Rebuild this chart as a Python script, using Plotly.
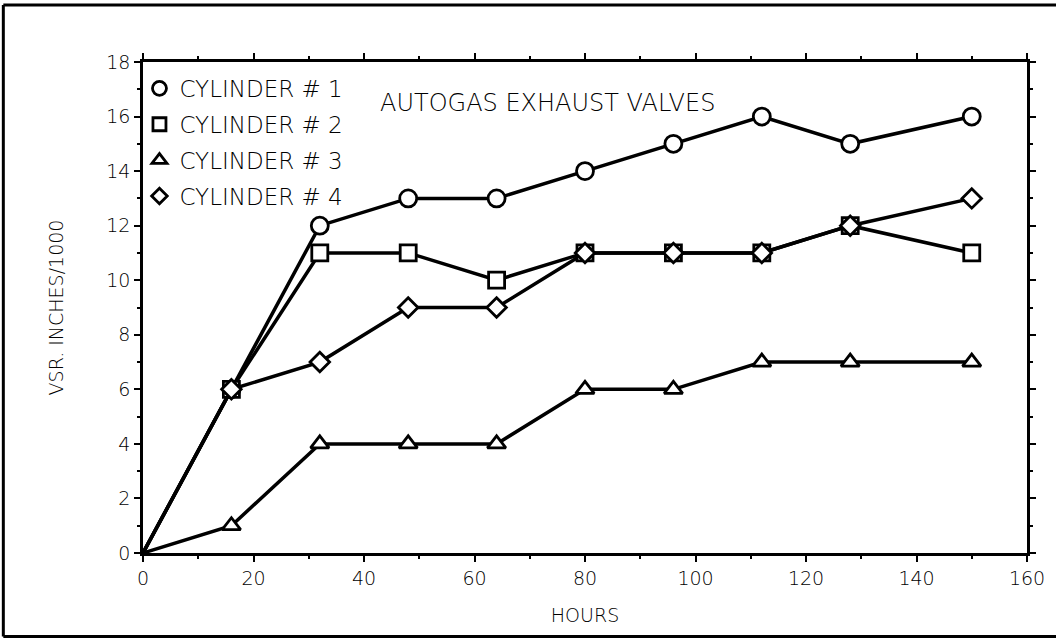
import plotly.graph_objects as go

hours = [0, 16, 32, 48, 64, 80, 96, 112, 128, 150]
cyl1 = [0, 6, 12, 13, 13, 14, 15, 16, 15, 16]
cyl2 = [0, 6, 11, 11, 10, 11, 11, 11, 12, 11]
cyl3 = [0, 1, 4, 4, 4, 6, 6, 7, 7, 7]
cyl4 = [0, 6, 7, 9, 9, 11, 11, 11, 12, 13]
names = ["CYLINDER # 1", "CYLINDER # 2", "CYLINDER # 3", "CYLINDER # 4"]
x_ticks = [0, 20, 40, 60, 80, 100, 120, 140, 160]
y_ticks = [0, 2, 4, 6, 8, 10, 12, 14, 16, 18]

FONT = "DejaVu Sans"
WEIGHT = 200
symbols = ["circle", "square", "triangle-up", "diamond"]
sizes = [17, 16, 16, 15]

fig = go.Figure()
series = [cyl1, cyl2, cyl3, cyl4]
for s in series:
    fig.add_trace(go.Scatter(x=hours, y=s, mode="lines",
                             line=dict(color="black", width=3.5),
                             showlegend=False, hoverinfo="skip", cliponaxis=False))
for i, s in enumerate(series):
    fig.add_trace(go.Scatter(x=hours[1:], y=s[1:], mode="markers",
                             marker=dict(symbol=symbols[i], size=sizes[i],
                                         color="white", line=dict(color="black", width=2.8)),
                             showlegend=False, cliponaxis=False))
for i, n in enumerate(names):
    fig.add_trace(go.Scatter(x=[None], y=[None], mode="markers", name=n,
                             legendgroup=str(i),
                             marker=dict(symbol=symbols[i], size=sizes[i] - 3,
                                         color="white", line=dict(color="black", width=2.8))))

tfont = dict(family=FONT, size=19, color="black", weight=WEIGHT)
axis_common = dict(showline=True, linecolor="black", linewidth=2.5, mirror="ticks",
                   ticks="outside", tickcolor="black", tickwidth=2, ticklen=6,
                   showgrid=False, zeroline=False, tickfont=tfont)

fig.update_layout(
    width=1056, height=640,
    margin=dict(l=143, r=29, t=62, b=87),
    paper_bgcolor="white", plot_bgcolor="white",
    xaxis=dict(range=[0, 160], tickvals=x_ticks,
               minor=dict(dtick=10, ticks="outside", ticklen=3, tickwidth=2, tickcolor="black"),
               title=dict(text="HOURS", font=dict(family=FONT, size=19, color="black", weight=WEIGHT),
                          standoff=22),
               **axis_common),
    yaxis=dict(range=[0, 18], tickvals=y_ticks,
               minor=dict(dtick=1, ticks="outside", ticklen=3, tickwidth=2, tickcolor="black"),
               title=dict(text="VSR. INCHES/1000", font=dict(family=FONT, size=19, color="black", weight=WEIGHT),
                          standoff=38),
               **axis_common),
    legend=dict(x=-0.004, y=0.99, xanchor="left", yanchor="top",
                bgcolor="rgba(0,0,0,0)", tracegroupgap=3,
                font=dict(family=FONT, size=23, color="black", weight=WEIGHT), itemwidth=30),
    annotations=[dict(text="AUTOGAS EXHAUST VALVES", xref="paper", yref="paper",
                      x=0.458, y=0.949, showarrow=False,
                      font=dict(family=FONT, size=24, color="black", weight=WEIGHT))],
    shapes=[
        dict(type="line", xref="paper", yref="paper", x0=-0.158, x1=-0.158, y0=-0.170, y1=1.116,
             line=dict(color="black", width=3)),
        dict(type="line", xref="paper", yref="paper", x0=-0.158, x1=1.05, y0=1.116, y1=1.116,
             line=dict(color="black", width=3)),
        dict(type="line", xref="paper", yref="paper", x0=-0.158, x1=1.05, y0=-0.170, y1=-0.170,
             line=dict(color="black", width=3)),
    ],
)

fig.write_html("out.html")
